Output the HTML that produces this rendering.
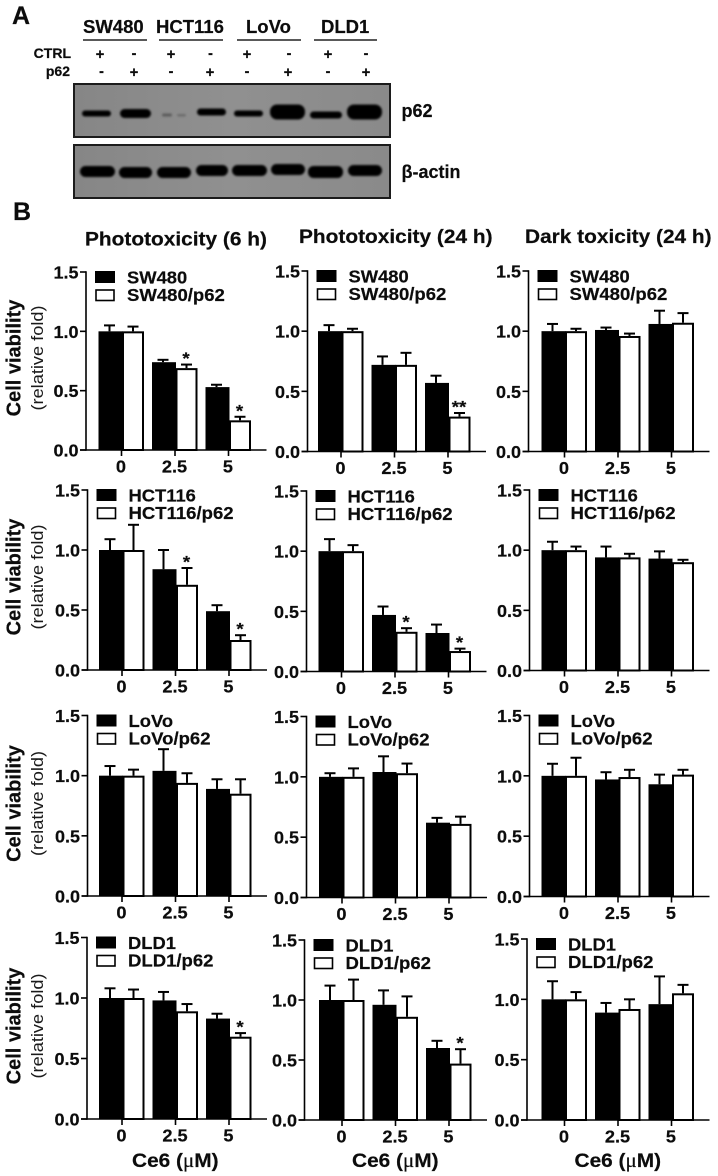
<!DOCTYPE html>
<html lang="en">
<head>
<meta charset="utf-8">
<title>p62 western blot and cell viability bar charts</title>
<style>
html,body{margin:0;padding:0;background:#fff;width:718px;height:1176px;overflow:hidden}
svg{display:block;position:absolute;left:0;top:0}
text{font-family:"Liberation Sans",sans-serif;font-weight:bold;fill:#0c0c0c;stroke:#0c0c0c;stroke-width:0.2px}
text.plain{font-weight:normal;stroke:none;fill:#1a1a1a}
tspan.greek{font-family:"Liberation Serif",serif;font-weight:normal}
</style>
</head>
<body>
<svg id="figure" xmlns="http://www.w3.org/2000/svg" width="718" height="1176" viewBox="0 0 718 1176">
  <defs>
    <filter id="band-blur" x="-20%" y="-60%" width="140%" height="220%"><feGaussianBlur stdDeviation="1.1"/></filter>
    <linearGradient id="blot-bg" x1="0" x2="1" y1="0" y2="0">
      <stop offset="0" stop-color="#868686"/><stop offset="0.5" stop-color="#909090"/><stop offset="1" stop-color="#8a8a8a"/>
    </linearGradient>
  </defs>

  <text x="12" y="24" font-size="25">A</text>
  <text x="13" y="220" font-size="25">B</text>

  <text x="83" y="33" font-size="18.500">SW480</text>
  <text x="156" y="33" font-size="18.500">HCT116</text>
  <text x="246" y="33" font-size="18.500">LoVo</text>
  <text x="321" y="33" font-size="18.500">DLD1</text>
  <g stroke="#222" stroke-width="1.4">
    <line x1="83" x2="147" y1="40" y2="40"/><line x1="159" x2="223" y1="40" y2="40"/>
    <line x1="237" x2="301" y1="40" y2="40"/><line x1="314" x2="377" y1="40" y2="40"/>
  </g>
  <text x="71" y="58" font-size="14" text-anchor="end">CTRL</text>
  <text x="70" y="76" font-size="14" text-anchor="end">p62</text>
  <g font-size="15" text-anchor="middle">
    <text x="100" y="59">+</text><text x="134" y="58">-</text><text x="171" y="59">+</text><text x="210.500" y="58">-</text>
    <text x="247" y="59">+</text><text x="289" y="58">-</text><text x="328" y="59">+</text><text x="366" y="58">-</text>
  </g>
  <g font-size="15" text-anchor="middle">
    <text x="101.500" y="76">-</text><text x="134" y="77">+</text><text x="171" y="76">-</text><text x="210" y="77">+</text>
    <text x="247" y="76">-</text><text x="288" y="77">+</text><text x="328" y="76">-</text><text x="366" y="77">+</text>
  </g>

  <g>
    <rect x="74" y="84" width="316" height="53" fill="url(#blot-bg)" stroke="#1c1c1c" stroke-width="2"/>
    <g filter="url(#band-blur)" fill="#050505">
      <rect x="82" y="110.500" width="29" height="6" rx="3"/>
      <rect x="120" y="109" width="31" height="9" rx="4.500"/>
      <rect x="162" y="113.500" width="10" height="3" rx="1.500" fill="#5c5c5c"/>
      <rect x="177" y="114" width="9" height="2.500" rx="1.200" fill="#6c6c6c"/>
      <rect x="197" y="108.500" width="29" height="7" rx="3.500"/>
      <rect x="234" y="110.500" width="29" height="6" rx="3"/>
      <rect x="270" y="104.500" width="35" height="15" rx="7"/>
      <rect x="310" y="111.500" width="32" height="7" rx="3.500"/>
      <rect x="347" y="104.500" width="35" height="15" rx="7"/>
    </g>
  </g>
  <g>
    <rect x="74" y="145" width="316" height="53" fill="url(#blot-bg)" stroke="#1c1c1c" stroke-width="2"/>
    <g filter="url(#band-blur)" fill="#050505">
      <rect x="80" y="166" width="35" height="11" rx="5.500"/>
      <rect x="119" y="167" width="33" height="11" rx="5.500"/>
      <rect x="157" y="167" width="34" height="11" rx="5.500"/>
      <rect x="196" y="165" width="32" height="11" rx="5.500"/>
      <rect x="232" y="165" width="35" height="11" rx="5.500"/>
      <rect x="271" y="164" width="34" height="11" rx="5.500"/>
      <rect x="308" y="166" width="35" height="12" rx="5.500"/>
      <rect x="348" y="165" width="34" height="11" rx="5.500"/>
    </g>
  </g>
  <text x="401.500" y="117" font-size="18">p62</text>
  <text x="401.500" y="178" font-size="18">β-actin</text>

  <g id="charts"></g>
</svg>

<script>
// ---- chart data ----
const cellLines = ['SW480', 'HCT116', 'LoVo', 'DLD1'];
const columnTitles = ['Phototoxicity (6 h)', 'Phototoxicity (24 h)', 'Dark toxicity (24 h)'];
const doses = ['0', '2.5', '5'];
const yTickValues = [0, 0.5, 1, 1.5];
const yTickLabels = ['0.0', '0.5', '1.0', '1.5'];

// [row][column][dose]
const controlMeans = [
  [[1.00, 0.74, 0.53], [1.00, 0.72, 0.57], [1.00, 1.01, 1.06]],
  [[1.00, 0.84, 0.49], [1.00, 0.47, 0.32], [1.00, 0.94, 0.93]],
  [[1.00, 1.04, 0.89], [1.00, 1.04, 0.62], [1.00, 0.97, 0.93]],
  [[1.00, 0.98, 0.83], [1.00, 0.96, 0.60], [1.00, 0.89, 0.96]]
];
const controlErrors = [
  [[0.05, 0.02, 0.02], [0.05, 0.07, 0.06], [0.06, 0.02, 0.11]],
  [[0.09, 0.16, 0.05], [0.10, 0.07, 0.07], [0.07, 0.09, 0.06]],
  [[0.08, 0.18, 0.08], [0.03, 0.13, 0.04], [0.10, 0.06, 0.08]],
  [[0.08, 0.07, 0.04], [0.12, 0.12, 0.06], [0.15, 0.08, 0.23]]
];
const p62Means = [
  [[1.00, 0.69, 0.25], [1.00, 0.72, 0.29], [1.00, 0.96, 1.07]],
  [[1.00, 0.71, 0.25], [1.00, 0.33, 0.17], [1.00, 0.94, 0.90]],
  [[1.00, 0.94, 0.85], [1.00, 1.03, 0.61], [1.00, 0.99, 1.01]],
  [[1.00, 0.89, 0.68], [1.00, 0.86, 0.47], [1.00, 0.92, 1.05]]
];
const p62Errors = [
  [[0.04, 0.03, 0.03], [0.02, 0.10, 0.03], [0.02, 0.02, 0.08]],
  [[0.21, 0.14, 0.04], [0.05, 0.03, 0.02], [0.03, 0.03, 0.02]],
  [[0.05, 0.08, 0.12], [0.07, 0.08, 0.06], [0.15, 0.06, 0.04]],
  [[0.07, 0.06, 0.03], [0.17, 0.17, 0.12], [0.06, 0.08, 0.07]]
];
const significance = [
  [['', '*', '*'], ['', '', '**'], ['', '', '']],
  [['', '*', '*'], ['', '*', '*'], ['', '', '']],
  [['', '', ''], ['', '', ''], ['', '', '']],
  [['', '', '*'], ['', '', '*'], ['', '', '']]
];

// ---- panel layout ----
const axisLeft = [
  [86, 307.5, 528.5],
  [87.5, 306.5, 529.5],
  [87.5, 306.5, 529.5],
  [87, 304.5, 527]
];
const firstTick = [
  [121.5, 341, 564.5],
  [122, 341.5, 564.5],
  [122, 342, 564.5],
  [122, 342, 564.5]
];
const plotTop = [
  [272, 271, 271],
  [490, 491, 490],
  [715.5, 716.5, 715.5],
  [937.5, 940, 939]
];
const plotBottom = [
  [450, 451.5, 451.5],
  [670, 671.5, 670.5],
  [896, 897.5, 896.5],
  [1119, 1120, 1120]
];
const rowLabelCenter = [358, 577, 803.5, 1026];
const titleBaseline = [245.5, 243, 243];
const titleLeft = [85, 299, 525];
const groupStep = 53.5;

const SVG_NS = 'http://www.w3.org/2000/svg';
const chartsRoot = document.getElementById('charts');

function shape(parent, tag, attrs) {
  const node = document.createElementNS(SVG_NS, tag);
  for (const key in attrs) node.setAttribute(key, attrs[key]);
  parent.appendChild(node);
  return node;
}

function writeText(parent, str, x, y, size, anchor, stretch, rotate) {
  const rot = rotate ? ' rotate(' + rotate + ')' : '';
  const node = shape(parent, 'text', {
    transform: 'translate(' + x + ',' + y + ')' + rot + ' scale(' + stretch + ',1)',
    'font-size': size,
    'text-anchor': anchor
  });
  node.textContent = str;
  return node;
}

function yScale(value, r, c) {
  return plotBottom[r][c] - value * (plotBottom[r][c] - plotTop[r][c]) / 1.5;
}

function xScale(groupIndex, r, c) {
  return firstTick[r][c] + groupIndex * groupStep;
}

function drawErrorBar(group, cx, valueTop, valueBase, r, c) {
  const top = yScale(valueTop, r, c);
  const base = yScale(valueBase, r, c);
  const stem = shape(group, 'line', { x1: cx, x2: cx, y1: top, y2: base, stroke: '#000', 'stroke-width': 2 });
  
  
  const cap = shape(group, 'line', { x1: cx - 5.5, x2: cx + 5.5, y1: top, y2: top, stroke: '#000', 'stroke-width': 2 });
  
  
}

function drawPanel(r, c) {
  const panel = shape(chartsRoot, 'g', {});
  
  

  const ax = axisLeft[r][c];
  const t0 = firstTick[r][c];
  const y0 = plotBottom[r][c];
  const y15 = plotTop[r][c];

  // bars and error bars
  doses.forEach(function (dose, g) {
    const tx = xScale(g, r, c);
    const baseY = yScale(0, r, c);

    drawErrorBar(panel, tx - 12, controlMeans[r][c][g] + controlErrors[r][c][g], controlMeans[r][c][g], r, c);
    drawErrorBar(panel, tx + 11.5, p62Means[r][c][g] + p62Errors[r][c][g], p62Means[r][c][g], r, c);

    const controlTop = yScale(controlMeans[r][c][g], r, c);
    const controlBar = shape(panel, 'rect', { x: tx - 23, y: controlTop, width: 24, height: baseY - controlTop, fill: '#000' });
    
    

    const p62Top = yScale(p62Means[r][c][g], r, c);
    const p62Bar = shape(panel, 'rect', { x: tx + 1.5, y: p62Top + 1, width: 20, height: baseY - p62Top - 1, fill: '#fff', stroke: '#000', 'stroke-width': 2 });
    
    

    if (significance[r][c][g]) {
      const starY = yScale(p62Means[r][c][g] + p62Errors[r][c][g], r, c) - 0.5;
      const star = writeText(panel, significance[r][c][g], tx + 11, starY, 17, 'middle', 1.1);
      
      
    }

    const xTick = shape(panel, 'line', { x1: tx, x2: tx, y1: y0, y2: y0 + 6, stroke: '#000', 'stroke-width': 1.6 });
    
    

    const xLabel = writeText(panel, dose, tx - 0.5, y0 + 22.5, 17.5, 'middle', 1.04);
    
    
  });

  // axes
  const yAxis = shape(panel, 'line', { x1: ax, x2: ax, y1: y15 - 0.8, y2: y0 + 0.8, stroke: '#000', 'stroke-width': 1.6 });
  
  
  const xAxis = shape(panel, 'line', { x1: ax - 6, x2: t0 + 145, y1: y0, y2: y0, stroke: '#000', 'stroke-width': 1.6 });
  
  

  yTickValues.forEach(function (value, i) {
    const ty = yScale(value, r, c);
    const yTick = shape(panel, 'line', { x1: ax - 6, x2: ax, y1: ty, y2: ty, stroke: '#000', 'stroke-width': 1.6 });
    
    
    const yLabel = writeText(panel, yTickLabels[i], ax - 7.5, ty + 6.5, 17.5, 'end', 1.03);
    
    
  });

  // legend
  const controlSwatch = shape(panel, 'rect', { x: ax + 9, y: y15 - 1, width: 20, height: 12, fill: '#000' });
  
  
  const p62Swatch = shape(panel, 'rect', { x: ax + 10, y: y15 + 18, width: 18, height: 10.5, fill: '#fff', stroke: '#000', 'stroke-width': 1.6 });
  
  
  const controlLabel = writeText(panel, cellLines[r], ax + 41, y15 + 11.5, 17.5, 'start', 1.05);
  
  
  const p62Label = writeText(panel, cellLines[r] + '/p62', ax + 41, y15 + 29, 17.5, 'start', 1.06);
  
  
}

cellLines.forEach(function (line, r) {
  columnTitles.forEach(function (title, c) {
    drawPanel(r, c);
  });

  const yTitle = writeText(chartsRoot, 'Cell viability', 20.5, rowLabelCenter[r], 20, 'middle', 1, -90);
  
  
  const ySub = writeText(chartsRoot, '(relative fold)', 43, rowLabelCenter[r], 17, 'middle', 1.07, -90);
  ySub.setAttribute('class', 'plain');
  
  
});

columnTitles.forEach(function (title, c) {
  const head = writeText(chartsRoot, title, titleLeft[c], titleBaseline[c], 19.5, 'start', 1.07);
  
  

  const cx = firstTick[3][c] + 54;
  const xTitle = writeText(chartsRoot, 'Ce6 (', cx - 44, 1167, 19.5, 'start', 1.07);
  
  
  const unit = shape(xTitle, 'tspan', { class: 'greek' });
  unit.textContent = 'μ';
  const unitEnd = shape(xTitle, 'tspan', {});
  unitEnd.textContent = 'M)';
});
</script>
</body>
</html>
